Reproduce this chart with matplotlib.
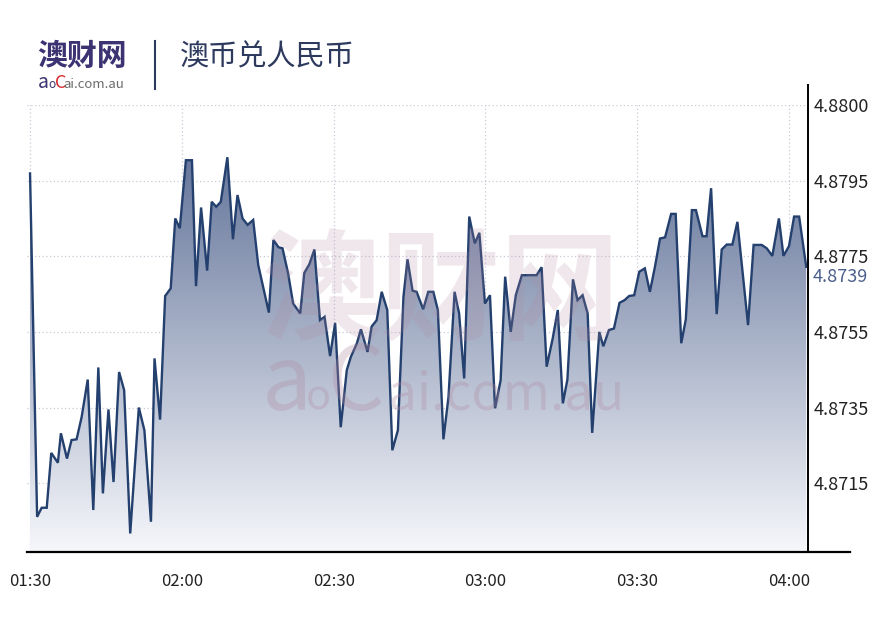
import numpy as np
import matplotlib
matplotlib.use("Agg")
import matplotlib.pyplot as plt
from matplotlib.colors import LinearSegmentedColormap
from matplotlib.lines import Line2D
from matplotlib.transforms import Affine2D

plt.rcParams['font.family'] = ['Noto Sans CJK SC', 'DejaVu Sans']

# minutes after 01:30 and AUD/CNY rate
minutes = [0, 1.4, 2.3, 3.3, 4.2, 5.5, 6.1, 7.3, 8.2, 9.2,
           10.2, 11.4, 12.5, 13.5, 14.4, 15.5, 16.5, 17.6, 18.6, 19.8,
           21.5, 22.6, 23.9, 24.6, 25.7, 26.7, 27.8, 28.7, 29.6, 30.8,
           32.0, 32.8, 33.8, 35.0, 35.9, 36.8, 37.7, 39.0, 40.1, 41.0,
           42.0, 43.0, 44.1, 45.1, 47.2, 48.1, 49.1, 49.9, 51.0, 52.0,
           53.4, 54.2, 55.2, 56.2, 57.3, 58.2, 59.3, 60.3, 61.4, 62.6,
           63.4, 64.6, 65.4, 66.7, 67.5, 68.5, 69.5, 70.6, 71.6, 72.7,
           73.8, 74.6, 75.6, 76.4, 77.7, 78.7, 79.7, 80.6, 81.7, 82.7,
           83.9, 84.8, 85.8, 86.8, 87.9, 88.8, 89.9, 90.9, 91.9, 93.0,
           93.9, 95.0, 96.0, 97.2, 98.2, 100.1, 101.1, 102.1, 103.3, 104.3,
           105.3, 106.2, 107.3, 108.2, 109.2, 110.2, 111.1, 112.5, 113.3, 114.4,
           115.4, 116.5, 117.5, 118.4, 119.4, 120.4, 121.5, 122.5, 123.5, 124.5,
           125.5, 126.7, 127.6, 128.7, 129.6, 130.8, 131.6, 132.9, 133.7, 134.6,
           135.7, 136.7, 137.7, 138.8, 139.8, 141.9, 143.0, 144.6, 145.6, 146.7,
           148.0, 148.9, 150.0, 151.0, 152.0, 153.4]
rates = [4.87969, 4.87061, 4.87085, 4.87085, 4.87230, 4.87204, 4.87282, 4.87215, 4.87264, 4.87266,
         4.87325, 4.87424, 4.87079, 4.87456, 4.87123, 4.87345, 4.87153, 4.87444, 4.87396, 4.87017,
         4.87350, 4.87290, 4.87048, 4.87480, 4.87318, 4.87645, 4.87665, 4.87850, 4.87824, 4.88004,
         4.88004, 4.87671, 4.87879, 4.87712, 4.87894, 4.87881, 4.87894, 4.88012, 4.87795, 4.87912,
         4.87850, 4.87833, 4.87846, 4.87727, 4.87601, 4.87793, 4.87774, 4.87771, 4.87705, 4.87625,
         4.87599, 4.87706, 4.87729, 4.87768, 4.87581, 4.87590, 4.87486, 4.87574, 4.87298, 4.87449,
         4.87484, 4.87520, 4.87557, 4.87497, 4.87564, 4.87581, 4.87656, 4.87608, 4.87237, 4.87290,
         4.87643, 4.87742, 4.87659, 4.87656, 4.87610, 4.87656, 4.87656, 4.87608, 4.87266, 4.87378,
         4.87656, 4.87599, 4.87427, 4.87855, 4.87784, 4.87812, 4.87625, 4.87647, 4.87348, 4.87422,
         4.87696, 4.87550, 4.87647, 4.87700, 4.87700, 4.87700, 4.87721, 4.87458, 4.87533, 4.87608,
         4.87361, 4.87424, 4.87689, 4.87634, 4.87647, 4.87599, 4.87283, 4.87550, 4.87512, 4.87555,
         4.87559, 4.87627, 4.87634, 4.87645, 4.87647, 4.87709, 4.87718, 4.87656, 4.87722, 4.87797,
         4.87800, 4.87862, 4.87862, 4.87520, 4.87583, 4.87872, 4.87872, 4.87803, 4.87803, 4.87930,
         4.87597, 4.87768, 4.87781, 4.87781, 4.87841, 4.87568, 4.87780, 4.87780, 4.87771, 4.87751,
         4.87850, 4.87751, 4.87777, 4.87855, 4.87855, 4.87722]

xtick_minutes = [0, 30, 60, 90, 120, 150]
xtick_labels = ['01:30', '02:00', '02:30', '03:00', '03:30', '04:00']
ytick_values = [4.8715, 4.8735, 4.8755, 4.8775, 4.8795, 4.8815]
ytick_labels = ['4.8715', '4.8735', '4.8755', '4.8775', '4.8795', '4.8800']
last_label = '4.8739'

W, H = 874, 620
fig = plt.figure(figsize=(W / 100, H / 100), dpi=100)
pix = Affine2D().scale(1 / W, -1 / H).translate(0, 1) + fig.transFigure

ax = fig.add_axes([27 / W, 1 - 552 / H, (808 - 27) / W, (552 - 105) / H])
xmin, xmax = -0.6, 153.75
ymin, ymax = 4.86968, 4.8815
ax.set_xlim(xmin, xmax)
ax.set_ylim(ymin, ymax)

# gradient area under the line
fill = ax.fill_between(minutes, rates, ymin, facecolor='none', edgecolor='none')
cmap = LinearSegmentedColormap.from_list('area', ['#f6f7fb', '#53668f'])
grad = np.linspace(0, 1, 256).reshape(-1, 1)
im = ax.imshow(grad, extent=[xmin, xmax, ymin, ymax], origin='lower',
               aspect='auto', cmap=cmap, zorder=1)
im.set_clip_path(fill.get_paths()[0], transform=ax.transData)

ax.plot(minutes, rates, color='#24406e', lw=1.7, zorder=5, solid_joinstyle='miter')

ax.set_xticks(xtick_minutes)
ax.set_xticklabels(xtick_labels)
ax.set_yticks(ytick_values)
ax.set_yticklabels(ytick_labels)
ax.yaxis.tick_right()
ax.tick_params(axis='x', length=0, pad=15, labelsize=12, labelcolor='#222222')
ax.tick_params(axis='y', length=0, pad=4, labelsize=13, labelcolor='#222222')
ax.grid(True, linestyle=(0, (1, 2)), color='#c9cad8', lw=0.9, zorder=0)
ax.set_axisbelow(True)
for s in ax.spines.values():
    s.set_visible(False)

# axis lines
fig.add_artist(Line2D([27, 850], [552, 552], color='black', lw=1.6, transform=pix))
fig.add_artist(Line2D([808, 808], [85, 552], color='black', lw=1.4, transform=pix))

# current value label
fig.text(813, 277, last_label, transform=pix, ha='left', va='center',
         fontsize=13, color='#4b5f8c')

# watermark
wm = '#b08aa2'
fig.text(262, 330, '澳财网', transform=pix, fontsize=86, fontweight='bold',
         color=wm, alpha=0.2, ha='left', va='baseline', zorder=3)
fig.text(262, 410, 'a', transform=pix, fontsize=64, color=wm, alpha=0.3,
         ha='left', va='baseline', zorder=3)
fig.text(306, 410, 'o', transform=pix, fontsize=30, color=wm, alpha=0.3,
         ha='left', va='baseline', zorder=3)
fig.text(328, 410, 'C', transform=pix, fontsize=64, color=wm, alpha=0.3,
         ha='left', va='baseline', zorder=3)
fig.text(388, 410, 'ai.com.au', transform=pix, fontsize=37, color=wm, alpha=0.3,
         ha='left', va='baseline', zorder=3)

# header
fig.text(37, 65, '澳财网', transform=pix, fontsize=21.5, fontweight='bold',
         color='#3b3372', ha='left', va='baseline')
fig.text(38, 88, 'a', transform=pix, fontsize=14, color='#3b3372', ha='left', va='baseline')
fig.text(48.5, 88, 'o', transform=pix, fontsize=8.5, color='#3b3372', ha='left', va='baseline')
fig.text(54.5, 88, 'C', transform=pix, fontsize=13, color='#d6282b', ha='left', va='baseline')
fig.text(63.5, 88, 'ai.com.au', transform=pix, fontsize=9.5, color='#6b6b6b',
         ha='left', va='baseline')
fig.add_artist(Line2D([155, 155], [41, 89], color='#2d3a5e', lw=1.5, transform=pix))
fig.text(180, 65, '澳币兑人民币', transform=pix, fontsize=21, color='#2d3a5e',
         ha='left', va='baseline')

fig.savefig('out.png', dpi=100)
